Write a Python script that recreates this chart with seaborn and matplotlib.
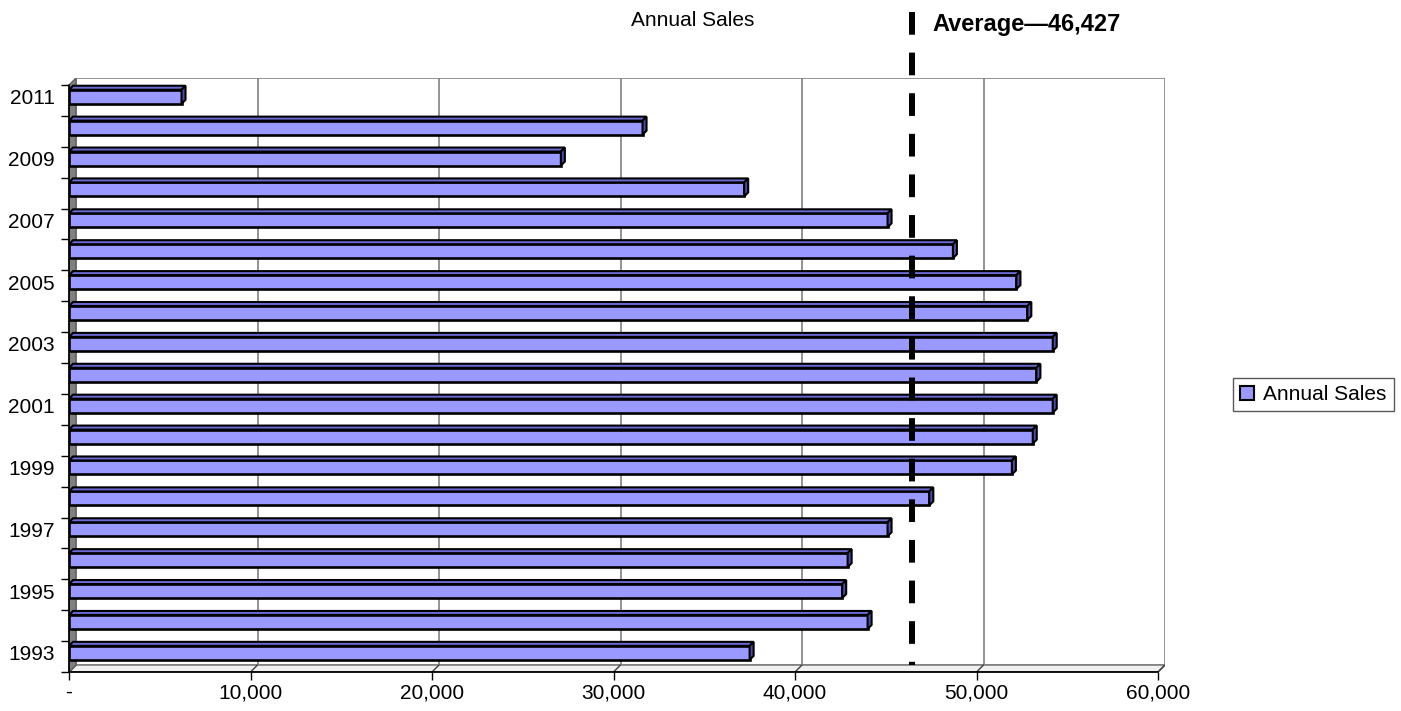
import matplotlib
matplotlib.use("Agg")
import matplotlib.pyplot as plt
import matplotlib.transforms as mtransforms
from matplotlib.patches import Polygon, Patch
import numpy as np
import pandas as pd
import seaborn as sns

# ---- data -------------------------------------------------------------
years = [1993, 1994, 1995, 1996, 1997, 1998, 1999, 2000, 2001, 2002,
         2003, 2004, 2005, 2006, 2007, 2008, 2009, 2010, 2011]
sales = [37500, 44000, 42600, 42900, 45100, 47400, 51950, 53100, 54200, 53300,
         54200, 52800, 52200, 48700, 45100, 37200, 27100, 31600, 6200]
x_ticks = [0, 10000, 20000, 30000, 40000, 50000, 60000]
x_tick_labels = ["-", "10,000", "20,000", "30,000", "40,000", "50,000", "60,000"]
series_name = "Annual Sales"
AVERAGE = 46427
average_label = "Average\u201446,427"

# ---- style ------------------------------------------------------------
sns.set_style("white")
plt.rcParams["font.family"] = ["Liberation Sans", "DejaVu Sans"]
plt.rcParams["text.color"] = "black"
plt.rcParams["xtick.color"] = "black"
plt.rcParams["ytick.color"] = "black"
plt.rcParams["xtick.labelcolor"] = "black"
plt.rcParams["ytick.labelcolor"] = "black"

W, H = 1401, 711
fig = plt.figure(figsize=(W / 100, H / 100), dpi=100)

# plot box geometry (pixels): front plane and 3-D depth of the walls
PX_X0, PX_XMAX = 69, 1158          # front-plane x = 0 and x = 60,000
PX_TOP, PX_BOT = 85, 672           # front-plane top / floor front edge
DEPTH = 7                          # wall depth offset (px)
BAR_DEPTH = 4                      # bar depth offset (px)
XMAX = 60000

ax = fig.add_axes([PX_X0 / W, (H - PX_BOT) / H,
                   (PX_XMAX + DEPTH - PX_X0) / W, (PX_BOT - PX_TOP + DEPTH) / H])

n = len(years)
ux = XMAX / (PX_XMAX - PX_X0)       # data units per pixel (x)
uy = n / (PX_BOT - PX_TOP)          # data units per pixel (y)
c = 0.12                            # bars sit slightly toward the back
y_bot = n - 0.5 + c
y_top_front = -0.5 + c
y_top_axes = y_bot - (PX_BOT - PX_TOP + DEPTH) * uy
dX, dY = DEPTH * ux, DEPTH * uy

df = pd.DataFrame({"Year": [str(y) for y in years], "Sales": sales})
order = [str(y) for y in years[::-1]]

# ---- walls & floor ----------------------------------------------------
grid_c = "#808080"
back = Polygon([(dX, y_top_front - dY), (XMAX + dX, y_top_front - dY),
                (XMAX + dX, y_bot - dY), (dX, y_bot - dY)],
               closed=True, facecolor="white", edgecolor=grid_c, lw=1.2, zorder=0)
ax.add_patch(back)
for v in x_ticks[1:-1]:
    ax.plot([v + dX, v + dX], [y_bot - dY, y_top_front - dY], color=grid_c, lw=1.2, zorder=0.5)
floor = Polygon([(0, y_bot), (XMAX, y_bot), (XMAX + dX, y_bot - dY), (dX, y_bot - dY)],
                closed=True, facecolor="#f0f0f0", edgecolor=grid_c, lw=1.2, zorder=0.6)
ax.add_patch(floor)
for v in x_ticks:
    ax.plot([v, v + dX], [y_bot, y_bot - dY], color="#404040", lw=1.0, zorder=0.7)
left_wall = Polygon([(0, y_top_front), (dX, y_top_front - dY), (dX, y_bot - dY), (0, y_bot)],
                    closed=True, facecolor="#808080", edgecolor="#606060", lw=1.0, zorder=0.8)
ax.add_patch(left_wall)

# ---- bars -------------------------------------------------------------
bar_h = 14 * uy
sns.barplot(data=df, x="Sales", y="Year", order=order, orient="h",
            color="#9999ff", saturation=1, edgecolor="black", linewidth=1.9,
            width=bar_h, ax=ax, zorder=2)

bx, by = BAR_DEPTH * ux, BAR_DEPTH * uy
for p in list(ax.patches):
    if not isinstance(p, matplotlib.patches.Rectangle):
        continue
    x0, y0, w, h = p.get_x(), p.get_y(), p.get_width(), p.get_height()
    if w <= 0:
        continue
    top = Polygon([(x0, y0), (x0 + w, y0), (x0 + w + bx, y0 - by), (x0 + bx, y0 - by)],
                  closed=True, facecolor="#6b6bd6", edgecolor="black", lw=1.5, zorder=2.1)
    side = Polygon([(x0 + w, y0), (x0 + w + bx, y0 - by), (x0 + w + bx, y0 + h - by), (x0 + w, y0 + h)],
                   closed=True, facecolor="#4d4da6", edgecolor="black", lw=1.5, zorder=2.1)
    ax.add_patch(top)
    ax.add_patch(side)

# ---- axes -------------------------------------------------------------
ax.set_xlim(0, (PX_XMAX + DEPTH - PX_X0) * ux)
ax.set_ylim(y_bot, y_top_axes)
for s in ax.spines.values():
    s.set_visible(False)
ax.plot([0, XMAX], [y_bot, y_bot], color="black", lw=1.3, clip_on=False, zorder=3)
ax.plot([0, 0], [y_bot, y_top_front], color="black", lw=1.3, clip_on=False, zorder=3)

ax.set_xticks(x_ticks)
ax.set_xticklabels(x_tick_labels, fontsize=15, color="black")
ax.tick_params(axis="x", direction="out", length=6, width=1.0, color="black",
               bottom=True, pad=2)

ax.set_yticks(range(n))
ax.set_yticklabels([lab if int(lab) % 2 == 1 else "" for lab in order], fontsize=15, color="black")
ax.set_yticks([k + 0.5 + c for k in range(-1, n)], minor=True)
ax.tick_params(axis="y", which="major", length=0, pad=10)
ax.tick_params(axis="y", which="minor", direction="out", length=6, width=1.0,
               color="black", left=True)
ax.set_xlabel("")
ax.set_ylabel("")
ax.grid(False)

# ---- average line -----------------------------------------------------
blend = mtransforms.blended_transform_factory(ax.transData, fig.transFigure)
ax.plot([AVERAGE, AVERAGE], [1 - 12 / H, 1 - 665 / H], transform=blend,
        color="black", lw=4.3, dashes=(3.8, 3.0), clip_on=False, zorder=5,
        solid_capstyle="butt", dash_capstyle="butt")
ax.annotate(average_label, xy=(AVERAGE, 1 - 24 / H), xycoords=blend,
            xytext=(21, 0), textcoords="offset pixels", ha="left", va="center",
            fontsize=17, fontweight="bold", color="black", annotation_clip=False)

# ---- title & legend ---------------------------------------------------
fig.text(693 / W, 1 - 20 / H, series_name, ha="center", va="center",
         fontsize=15, color="black")
handle = Patch(facecolor="#9999ff", edgecolor="black", linewidth=1.5, label=series_name)
leg = fig.legend(handles=[handle], loc="center left",
                 bbox_to_anchor=(1233 / W, 1 - 394.5 / H), fontsize=15,
                 frameon=True, fancybox=False, handlelength=0.65, handleheight=0.65,
                 handletextpad=0.45, borderpad=0.35, borderaxespad=0, labelcolor="black")
leg.get_frame().set_edgecolor("#303030")
leg.get_frame().set_linewidth(1.0)

fig.savefig("out.png", dpi=100)
